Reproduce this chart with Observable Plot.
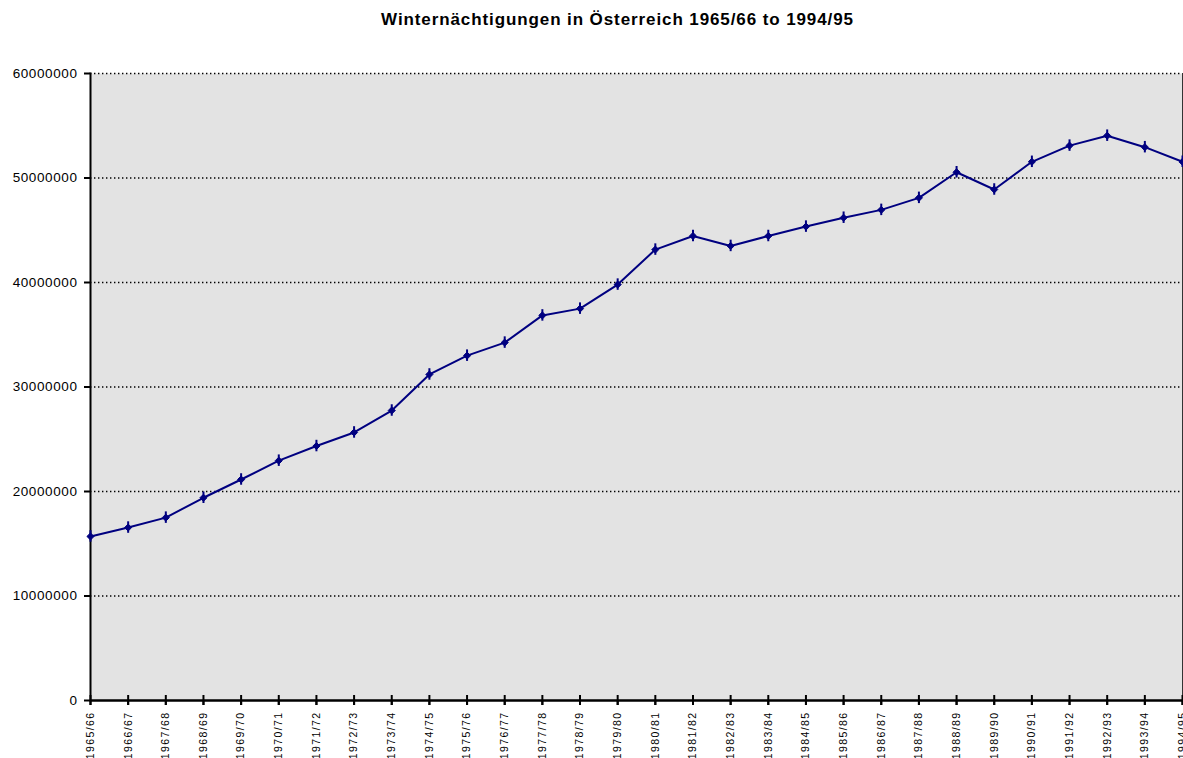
<!DOCTYPE html>
<html>
<head>
<meta charset="utf-8">
<script src="https://cdn.jsdelivr.net/npm/d3@7"></script>
<script src="https://cdn.jsdelivr.net/npm/@observablehq/plot@0.6"></script>
<style>
  body { margin: 0; background: #fff; font-family: "Liberation Sans", Arial, sans-serif; }
  #title { height: 44px; line-height: 40px; text-align: center; font-weight: bold; font-size: 17px; letter-spacing: 0.9px; color: #000; padding-left: 52px; }
  #chart svg { display: block; }
  #chart g[aria-label="x-axis tick label"] text { letter-spacing: 1.4px; }
  #chart g[aria-label="y-axis tick label"] text { letter-spacing: 0.6px; }
</style>
</head>
<body>
<div id="title">Winternächtigungen in Österreich 1965/66 to 1994/95</div>
<div id="chart"></div>
<script>
const seasons = ["1965/66","1966/67","1967/68","1968/69","1969/70","1970/71","1971/72","1972/73","1973/74","1974/75",
  "1975/76","1976/77","1977/78","1978/79","1979/80","1980/81","1981/82","1982/83","1983/84","1984/85",
  "1985/86","1986/87","1987/88","1988/89","1989/90","1990/91","1991/92","1992/93","1993/94","1994/95"];
const nights = [15700000,16550000,17500000,19400000,21150000,22950000,24350000,25650000,27750000,31200000,
  33000000,34250000,36850000,37500000,39800000,43150000,44450000,43500000,44450000,45350000,
  46200000,46950000,48100000,50550000,48900000,51550000,53100000,54050000,52950000,51550000];
const yTicks = [0,10000000,20000000,30000000,40000000,50000000,60000000];

const data = seasons.map((s, i) => ({season: s, value: nights[i]}));

const chart = Plot.plot({
  width: 1183,
  height: 714,
  marginLeft: 90,
  marginRight: 1,
  marginTop: 29,
  marginBottom: 58,
  style: {fontFamily: "'Liberation Sans', Arial, sans-serif", color: "#000", background: "#fff"},
  x: {type: "point", domain: seasons, padding: 0, round: false},
  y: {domain: [0, 60000000]},
  marks: [
    Plot.frame({fill: "#e3e3e3", stroke: null}),
    Plot.ruleY(yTicks.filter(d => d > 0), {stroke: "#000", strokeWidth: 1.4, strokeDasharray: "1.4,2.6"}),
    Plot.frame({anchor: "right", stroke: "#333", strokeWidth: 1}),
    Plot.axisY({ticks: yTicks, tickFormat: d => String(d), tickSize: 6, tickPadding: 7, fontSize: 13.5, strokeWidth: 2, label: null}),
    Plot.axisX({tickRotate: -90, tickSize: 5, tickPadding: 6, fontSize: 10.5, strokeWidth: 2, label: null}),
    Plot.frame({anchor: "left", stroke: "#000", strokeWidth: 2}),
    Plot.ruleY([0], {stroke: "#000", strokeWidth: 2.5}),
    Plot.ruleX(data, {x: "season", y1: -480000, y2: 480000, stroke: "#000", strokeWidth: 2}),
    Plot.line(data, {x: "season", y: "value", stroke: "#000080", strokeWidth: 2}),
    Plot.dot(data, {x: "season", y: "value", symbol: "diamond2", r: 3.2, fill: "#000080", stroke: "#000080", strokeWidth: 1}),
    Plot.ruleX(data, {x: "season", y1: d => d.value - 550000, y2: d => d.value + 550000, stroke: "#000080", strokeWidth: 2})
  ]
});
document.getElementById("chart").appendChild(chart);
</script>
</body>
</html>
